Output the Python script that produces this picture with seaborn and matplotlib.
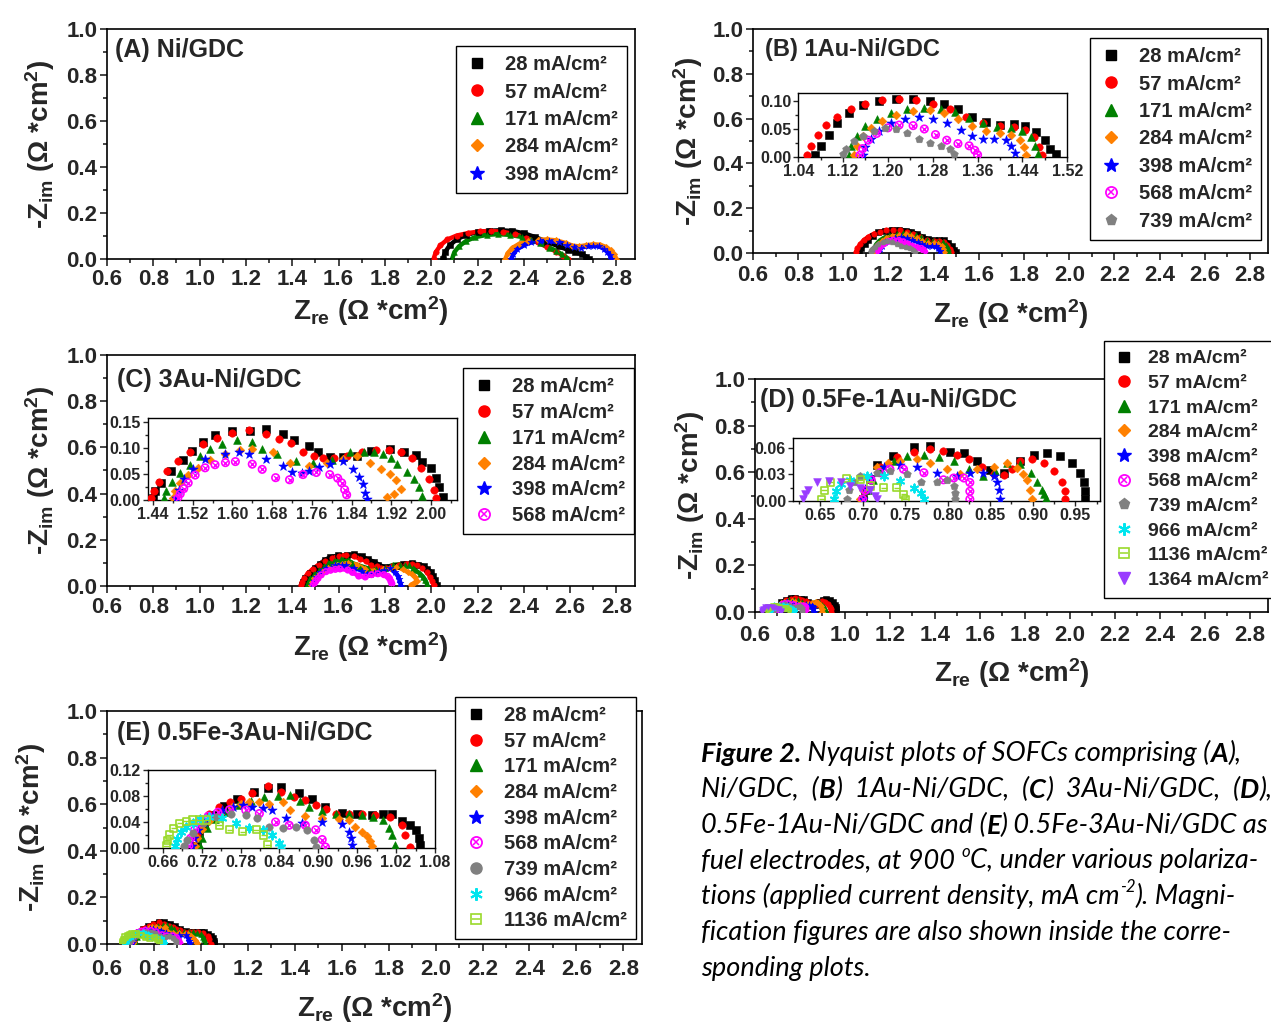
import matplotlib
matplotlib.use("Agg")
import matplotlib.pyplot as plt
import seaborn as sns
import pandas as pd
from matplotlib.lines import Line2D
from matplotlib.ticker import MultipleLocator, FormatStrFormatter

# ---------------- data ----------------
A_cur = [28, 57, 171, 284, 398]
A_re = [
    [2.05, 2.06, 2.08, 2.11, 2.15, 2.20, 2.25, 2.30, 2.35, 2.40, 2.45, 2.50, 2.55, 2.59, 2.62, 2.65, 2.67, 2.68],
    [2.01, 2.02, 2.04, 2.07, 2.11, 2.16, 2.21, 2.26, 2.31, 2.36, 2.41, 2.46, 2.50, 2.54, 2.57, 2.59],
    [2.09, 2.10, 2.12, 2.15, 2.19, 2.24, 2.29, 2.34, 2.39, 2.43, 2.47, 2.51, 2.54, 2.565, 2.58, 2.59],
    [2.32, 2.33, 2.35, 2.38, 2.42, 2.46, 2.50, 2.54, 2.58, 2.61, 2.64, 2.67, 2.70, 2.73, 2.755, 2.775, 2.79, 2.80],
    [2.345, 2.355, 2.37, 2.40, 2.43, 2.47, 2.51, 2.55, 2.585, 2.615, 2.645, 2.675, 2.70, 2.725, 2.745, 2.76, 2.772, 2.778],
]
A_im = [
    [0.0, 0.03, 0.06, 0.085, 0.105, 0.117, 0.123, 0.125, 0.122, 0.112, 0.095, 0.075, 0.055, 0.04, 0.03, 0.02, 0.01, 0.0],
    [0.0, 0.03, 0.06, 0.085, 0.102, 0.113, 0.12, 0.122, 0.118, 0.108, 0.092, 0.072, 0.052, 0.032, 0.015, 0.0],
    [0.0, 0.03, 0.055, 0.078, 0.095, 0.105, 0.108, 0.105, 0.096, 0.083, 0.068, 0.05, 0.035, 0.02, 0.01, 0.0],
    [0.0, 0.025, 0.048, 0.066, 0.078, 0.084, 0.085, 0.081, 0.07, 0.058, 0.055, 0.06, 0.064, 0.062, 0.052, 0.038, 0.02, 0.0],
    [0.0, 0.022, 0.042, 0.06, 0.072, 0.078, 0.078, 0.073, 0.063, 0.053, 0.05, 0.055, 0.058, 0.055, 0.045, 0.032, 0.016, 0.0],
]

B_cur = [28, 57, 171, 284, 398, 568, 739]
B_re = [
    [1.070, 1.080, 1.095, 1.110, 1.130, 1.155, 1.185, 1.215, 1.245, 1.275, 1.300, 1.325, 1.350, 1.375, 1.400, 1.425, 1.445, 1.465, 1.480, 1.490, 1.500],
    [1.055, 1.062, 1.075, 1.090, 1.110, 1.135, 1.160, 1.190, 1.220, 1.250, 1.280, 1.310, 1.340, 1.370, 1.400, 1.425, 1.445, 1.460, 1.470, 1.475],
    [1.130, 1.135, 1.145, 1.160, 1.180, 1.205, 1.235, 1.265, 1.295, 1.320, 1.345, 1.370, 1.395, 1.420, 1.440, 1.455, 1.463, 1.467],
    [1.140, 1.145, 1.155, 1.170, 1.190, 1.215, 1.245, 1.275, 1.300, 1.325, 1.350, 1.375, 1.400, 1.420, 1.435, 1.443, 1.447],
    [1.155, 1.160, 1.170, 1.185, 1.205, 1.230, 1.255, 1.280, 1.305, 1.330, 1.350, 1.370, 1.390, 1.410, 1.420, 1.427],
    [1.150, 1.155, 1.165, 1.180, 1.200, 1.220, 1.245, 1.265, 1.285, 1.305, 1.325, 1.345, 1.355, 1.360],
    [1.120, 1.125, 1.140, 1.155, 1.175, 1.195, 1.215, 1.235, 1.255, 1.275, 1.295, 1.310, 1.318],
]
B_im = [
    [0.003, 0.020, 0.040, 0.060, 0.078, 0.092, 0.100, 0.104, 0.104, 0.100, 0.095, 0.085, 0.072, 0.062, 0.057, 0.058, 0.056, 0.045, 0.030, 0.015, 0.005],
    [0.003, 0.020, 0.040, 0.057, 0.072, 0.086, 0.095, 0.101, 0.104, 0.101, 0.094, 0.085, 0.072, 0.060, 0.055, 0.054, 0.048, 0.035, 0.018, 0.004],
    [0.003, 0.020, 0.038, 0.055, 0.068, 0.078, 0.085, 0.088, 0.086, 0.080, 0.070, 0.060, 0.053, 0.051, 0.047, 0.035, 0.020, 0.005],
    [0.003, 0.020, 0.038, 0.052, 0.065, 0.075, 0.082, 0.083, 0.078, 0.068, 0.055, 0.046, 0.043, 0.040, 0.030, 0.018, 0.004],
    [0.003, 0.018, 0.033, 0.047, 0.060, 0.068, 0.071, 0.068, 0.060, 0.048, 0.038, 0.033, 0.032, 0.030, 0.020, 0.008],
    [0.003, 0.015, 0.030, 0.042, 0.052, 0.057, 0.056, 0.050, 0.040, 0.030, 0.024, 0.020, 0.012, 0.004],
    [0.005, 0.015, 0.028, 0.038, 0.047, 0.052, 0.050, 0.042, 0.033, 0.025, 0.020, 0.015, 0.006],
]

C_cur = [28, 57, 171, 284, 398, 568]
C_re = [
    [1.440, 1.445, 1.457, 1.477, 1.500, 1.518, 1.540, 1.565, 1.599, 1.635, 1.667, 1.701, 1.725, 1.755, 1.772, 1.796, 1.823, 1.850, 1.880, 1.918, 1.945, 1.969, 1.982, 1.999, 2.009, 2.016, 2.023],
    [1.437, 1.442, 1.452, 1.468, 1.490, 1.515, 1.540, 1.570, 1.600, 1.633, 1.667, 1.694, 1.718, 1.742, 1.765, 1.782, 1.805, 1.830, 1.860, 1.890, 1.915, 1.940, 1.962, 1.980, 1.995, 2.005, 2.010],
    [1.462, 1.467, 1.478, 1.495, 1.515, 1.535, 1.555, 1.580, 1.609, 1.640, 1.660, 1.690, 1.728, 1.762, 1.800, 1.837, 1.864, 1.885, 1.904, 1.920, 1.931, 1.952, 1.965, 1.975, 1.982],
    [1.480, 1.485, 1.495, 1.510, 1.530, 1.555, 1.585, 1.615, 1.640, 1.681, 1.715, 1.755, 1.790, 1.823, 1.850, 1.877, 1.900, 1.918, 1.930, 1.940, 1.925, 1.912],
    [1.487, 1.492, 1.502, 1.520, 1.545, 1.586, 1.613, 1.633, 1.667, 1.701, 1.721, 1.740, 1.755, 1.775, 1.796, 1.823, 1.843, 1.855, 1.862, 1.867, 1.870],
    [1.490, 1.495, 1.502, 1.511, 1.525, 1.545, 1.565, 1.586, 1.606, 1.640, 1.660, 1.687, 1.715, 1.742, 1.769, 1.796, 1.812, 1.820, 1.826, 1.830],
]
C_im = [
    [0.003, 0.018, 0.033, 0.056, 0.078, 0.095, 0.112, 0.125, 0.132, 0.133, 0.137, 0.128, 0.115, 0.104, 0.093, 0.082, 0.082, 0.085, 0.095, 0.099, 0.093, 0.086, 0.074, 0.062, 0.043, 0.026, 0.005],
    [0.003, 0.018, 0.035, 0.055, 0.075, 0.093, 0.108, 0.120, 0.130, 0.135, 0.128, 0.118, 0.109, 0.092, 0.085, 0.080, 0.080, 0.085, 0.093, 0.097, 0.097, 0.092, 0.080, 0.062, 0.040, 0.020, 0.004],
    [0.003, 0.018, 0.035, 0.052, 0.068, 0.085, 0.099, 0.108, 0.115, 0.112, 0.099, 0.088, 0.076, 0.072, 0.078, 0.092, 0.093, 0.092, 0.089, 0.080, 0.069, 0.053, 0.040, 0.025, 0.008],
    [0.003, 0.018, 0.033, 0.048, 0.062, 0.077, 0.089, 0.097, 0.099, 0.092, 0.072, 0.066, 0.072, 0.079, 0.084, 0.072, 0.060, 0.050, 0.038, 0.022, 0.012, 0.005],
    [0.003, 0.020, 0.040, 0.060, 0.079, 0.089, 0.092, 0.089, 0.079, 0.066, 0.053, 0.052, 0.056, 0.063, 0.069, 0.076, 0.059, 0.045, 0.030, 0.013, 0.001],
    [0.003, 0.012, 0.022, 0.033, 0.048, 0.062, 0.068, 0.072, 0.074, 0.069, 0.059, 0.043, 0.039, 0.049, 0.053, 0.049, 0.042, 0.033, 0.020, 0.010],
]

D_cur = [28, 57, 171, 284, 398, 568, 739, 966, 1136, 1364]
D_re = [
    [0.700, 0.703, 0.708, 0.717, 0.736, 0.760, 0.779, 0.803, 0.819, 0.835, 0.850, 0.866, 0.885, 0.901, 0.917, 0.932, 0.946, 0.956, 0.960, 0.962, 0.962],
    [0.700, 0.703, 0.709, 0.720, 0.740, 0.760, 0.779, 0.795, 0.811, 0.825, 0.840, 0.855, 0.866, 0.876, 0.885, 0.899, 0.913, 0.925, 0.934, 0.938, 0.938],
    [0.703, 0.706, 0.712, 0.722, 0.737, 0.752, 0.772, 0.790, 0.807, 0.825, 0.842, 0.856, 0.870, 0.885, 0.898, 0.905, 0.911, 0.913, 0.915],
    [0.697, 0.700, 0.706, 0.717, 0.730, 0.744, 0.764, 0.779, 0.799, 0.815, 0.834, 0.854, 0.870, 0.881, 0.889, 0.893, 0.897, 0.899],
    [0.700, 0.703, 0.710, 0.725, 0.744, 0.764, 0.787, 0.811, 0.826, 0.842, 0.854, 0.858, 0.860, 0.862],
    [0.700, 0.703, 0.710, 0.720, 0.732, 0.748, 0.772, 0.795, 0.807, 0.819, 0.826, 0.826, 0.826],
    [0.681, 0.684, 0.690, 0.697, 0.717, 0.732, 0.752, 0.768, 0.787, 0.799, 0.807, 0.809, 0.809],
    [0.666, 0.669, 0.675, 0.685, 0.705, 0.725, 0.744, 0.760, 0.768, 0.772],
    [0.652, 0.655, 0.662, 0.681, 0.697, 0.709, 0.725, 0.740, 0.748, 0.750],
    [0.630, 0.632, 0.636, 0.646, 0.660, 0.674, 0.685, 0.697, 0.709, 0.715, 0.717],
]
D_im = [
    [0.002, 0.012, 0.025, 0.041, 0.051, 0.061, 0.062, 0.056, 0.054, 0.045, 0.035, 0.032, 0.045, 0.052, 0.054, 0.051, 0.043, 0.032, 0.021, 0.011, 0.002],
    [0.002, 0.012, 0.025, 0.038, 0.050, 0.056, 0.059, 0.057, 0.052, 0.047, 0.038, 0.031, 0.029, 0.036, 0.045, 0.047, 0.043, 0.034, 0.022, 0.011, 0.002],
    [0.002, 0.012, 0.024, 0.036, 0.045, 0.051, 0.052, 0.050, 0.045, 0.036, 0.028, 0.034, 0.043, 0.042, 0.032, 0.022, 0.013, 0.008, 0.003],
    [0.002, 0.013, 0.026, 0.039, 0.043, 0.045, 0.047, 0.043, 0.036, 0.030, 0.036, 0.039, 0.043, 0.0375, 0.030, 0.024, 0.013, 0.002],
    [0.002, 0.014, 0.027, 0.039, 0.041, 0.039, 0.032, 0.028, 0.032, 0.032, 0.028, 0.022, 0.012, 0.002],
    [0.002, 0.012, 0.024, 0.032, 0.036, 0.036, 0.032, 0.024, 0.026, 0.026, 0.021, 0.011, 0.002],
    [0.002, 0.012, 0.022, 0.028, 0.032, 0.034, 0.030, 0.021, 0.021, 0.024, 0.017, 0.009, 0.002],
    [0.002, 0.011, 0.019, 0.024, 0.028, 0.028, 0.0225, 0.015, 0.009, 0.002],
    [0.002, 0.012, 0.021, 0.025, 0.024, 0.017, 0.015, 0.015, 0.0075, 0.002],
    [0.002, 0.008, 0.013, 0.021, 0.0225, 0.021, 0.017, 0.015, 0.013, 0.006, 0.002],
]

E_cur = [28, 57, 171, 284, 398, 568, 739, 966, 1136]
E_re = [
    [0.712, 0.716, 0.724, 0.738, 0.755, 0.775, 0.801, 0.822, 0.842, 0.870, 0.891, 0.911, 0.937, 0.960, 0.983, 1.000, 1.014, 1.029, 1.042, 1.050, 1.055, 1.057],
    [0.708, 0.712, 0.720, 0.732, 0.747, 0.763, 0.780, 0.798, 0.822, 0.842, 0.863, 0.880, 0.896, 0.912, 0.927, 0.948, 0.968, 0.988, 1.011, 1.029, 1.034, 1.042],
    [0.717, 0.720, 0.728, 0.740, 0.757, 0.776, 0.796, 0.816, 0.837, 0.857, 0.872, 0.886, 0.906, 0.927, 0.948, 0.968, 0.985, 1.000, 1.009, 1.014, 1.019],
    [0.710, 0.713, 0.720, 0.732, 0.748, 0.766, 0.780, 0.793, 0.809, 0.824, 0.845, 0.857, 0.880, 0.906, 0.932, 0.947, 0.957, 0.967, 0.975, 0.980, 0.983],
    [0.705, 0.708, 0.714, 0.724, 0.737, 0.752, 0.768, 0.783, 0.798, 0.814, 0.829, 0.850, 0.875, 0.906, 0.937, 0.947, 0.950, 0.952],
    [0.700, 0.703, 0.709, 0.718, 0.730, 0.745, 0.763, 0.788, 0.809, 0.834, 0.855, 0.880, 0.896, 0.906, 0.911],
    [0.693, 0.697, 0.706, 0.722, 0.742, 0.765, 0.788, 0.806, 0.824, 0.845, 0.865, 0.883, 0.893, 0.896],
    [0.678, 0.682, 0.688, 0.696, 0.706, 0.718, 0.732, 0.752, 0.773, 0.793, 0.814, 0.829, 0.839, 0.842],
    [0.665, 0.667, 0.670, 0.677, 0.686, 0.696, 0.706, 0.716, 0.727, 0.747, 0.763, 0.783, 0.804, 0.816, 0.822],
]
E_im = [
    [0.003, 0.018, 0.034, 0.050, 0.064, 0.076, 0.086, 0.093, 0.094, 0.085, 0.076, 0.063, 0.054, 0.052, 0.051, 0.052, 0.053, 0.041, 0.035, 0.028, 0.015, 0.004],
    [0.003, 0.020, 0.037, 0.052, 0.063, 0.070, 0.076, 0.084, 0.096, 0.086, 0.079, 0.074, 0.066, 0.060, 0.053, 0.052, 0.053, 0.051, 0.048, 0.035, 0.020, 0.002],
    [0.003, 0.015, 0.030, 0.044, 0.056, 0.066, 0.073, 0.078, 0.080, 0.081, 0.072, 0.063, 0.057, 0.053, 0.052, 0.051, 0.048, 0.043, 0.030, 0.020, 0.005],
    [0.003, 0.015, 0.029, 0.042, 0.053, 0.063, 0.068, 0.071, 0.071, 0.068, 0.071, 0.058, 0.049, 0.046, 0.044, 0.043, 0.033, 0.025, 0.018, 0.010, 0.0035],
    [0.003, 0.015, 0.028, 0.040, 0.050, 0.058, 0.063, 0.066, 0.063, 0.061, 0.058, 0.046, 0.038, 0.040, 0.037, 0.025, 0.015, 0.005],
    [0.003, 0.015, 0.028, 0.039, 0.049, 0.055, 0.059, 0.058, 0.053, 0.040, 0.035, 0.035, 0.028, 0.013, 0.0015],
    [0.003, 0.012, 0.023, 0.038, 0.048, 0.053, 0.051, 0.046, 0.033, 0.030, 0.033, 0.028, 0.013, 0.0015],
    [0.003, 0.014, 0.025, 0.032, 0.038, 0.044, 0.048, 0.046, 0.038, 0.030, 0.028, 0.020, 0.008, 0.0015],
    [0.003, 0.012, 0.020, 0.030, 0.038, 0.041, 0.043, 0.043, 0.043, 0.035, 0.028, 0.025, 0.028, 0.020, 0.005],
]

COLOR = {28: "#000000", 57: "#ff0000", 171: "#008000", 284: "#ff8000", 398: "#0000ff",
         568: "#ff00ff", 739: "#808080", 966: "#00e5ee", 1136: "#99d92a", 1364: "#9a3cff"}
MARK = {28: "s", 57: "o", 171: "^", 284: "D", 398: "*", 568: "ox",
        739: "p", 966: "ast", 1136: "sq", 1364: "v"}
MSCALE = {"s": 1.0, "o": 1.1, "^": 1.2, "D": 0.75, "*": 1.9, "p": 1.3, "v": 1.2}

# ---------------- style ----------------
sns.set_theme(style="ticks")
plt.rcParams["font.family"] = ["Liberation Sans", "DejaVu Sans"]
plt.rcParams["font.weight"] = "bold"
plt.rcParams["mathtext.default"] = "regular"
plt.rcParams["axes.linewidth"] = 1.2

XLABEL = "Z$_{re}$ (\u03a9 *cm$^{2}$)"
YLABEL = "-Z$_{im}$ (\u03a9 *cm$^{2}$)"

fig = plt.figure(figsize=(12.71, 10.25), dpi=100)


def marks(ax, re, im, cur, s, m739="p"):
    df = pd.DataFrame({"re": re, "im": im})
    c = COLOR[cur]
    m = m739 if cur == 739 else MARK[cur]
    kw = dict(data=df, x="re", y="im", ax=ax, legend=False, zorder=3)
    if m == "ox":
        sns.scatterplot(marker="o", s=s * 1.1, facecolor="none", edgecolor=c, linewidth=1.2, **kw)
        sns.scatterplot(marker="x", s=s * 0.45, color=c, edgecolor=c, linewidth=1.0, **kw)
    elif m == "sq":
        sns.scatterplot(marker="s", s=s, facecolor="none", edgecolor=c, linewidth=1.2, **kw)
        sns.scatterplot(marker="_", s=s * 0.7, color=c, edgecolor=c, linewidth=1.0, **kw)
    elif m == "ast":
        sns.scatterplot(marker=(6, 2, 0), s=s * 1.3, color=c, edgecolor=c, linewidth=1.4, **kw)
    else:
        sns.scatterplot(marker=m, s=s * MSCALE[m], color=c, edgecolor=c, linewidth=0.4, **kw)


def handle(cur, m739="p"):
    c = COLOR[cur]
    m = m739 if cur == 739 else MARK[cur]
    if m == "ox":
        return (Line2D([], [], ls="none", marker="o", ms=8, mfc="none", mec=c, mew=1.3),
                Line2D([], [], ls="none", marker="x", ms=5, color=c, mew=1.1))
    if m == "sq":
        return (Line2D([], [], ls="none", marker="s", ms=7, mfc="none", mec=c, mew=1.2),
                Line2D([], [], ls="none", marker="_", ms=6, color=c, mew=1.1))
    if m == "ast":
        return Line2D([], [], ls="none", marker=(6, 2, 0), ms=9, color=c, mew=1.5)
    ms = {"s": 7, "o": 8, "^": 8, "D": 6.5, "*": 10, "p": 8, "v": 8}[m]
    return Line2D([], [], ls="none", marker=m, ms=ms, color=c, mec=c)


def main_axes(rect, cur, re, im, title, tpos, legpos, lspace, m739="p",
              tfs=18, xpad=2, xlpad=3, ylpad=4, lfs=14.5, ltp=0.8):
    ax = fig.add_axes(rect)
    for i, c in enumerate(cur):
        sns.lineplot(x=re[i], y=im[i], sort=False, estimator=None, color=COLOR[c],
                     linewidth=3.2, ax=ax, legend=False)
        marks(ax, re[i], im[i], c, 14, m739)
    ax.set_xlim(0.6, 2.88)
    ax.set_ylim(0, 1.0)
    ax.xaxis.set_major_locator(MultipleLocator(0.2))
    ax.xaxis.set_minor_locator(MultipleLocator(0.1))
    ax.yaxis.set_major_locator(MultipleLocator(0.2))
    ax.yaxis.set_minor_locator(MultipleLocator(0.1))
    ax.xaxis.set_major_formatter(FormatStrFormatter("%.1f"))
    ax.yaxis.set_major_formatter(FormatStrFormatter("%.1f"))
    ax.tick_params(which="major", direction="out", length=5, width=1.2, labelsize=16, pad=2)
    ax.tick_params(axis="x", which="major", pad=xpad)
    ax.tick_params(which="minor", direction="out", length=3, width=1.2)
    for sp in ax.spines.values():
        sp.set_linewidth(1.2)
        sp.set_color("black")
    ax.set_xlabel(XLABEL, fontsize=20, fontweight="bold", labelpad=xlpad)
    ax.set_ylabel(YLABEL, fontsize=20, fontweight="bold", labelpad=ylpad)
    ax.text(tpos[0], tpos[1], title, transform=ax.transAxes, fontsize=tfs,
            fontweight="bold", va="center", ha="left")
    leg = ax.legend([handle(c, m739) for c in cur], [f"{c} mA/cm\u00b2" for c in cur],
                    loc="upper left", bbox_to_anchor=legpos, bbox_transform=fig.transFigure,
                    fontsize=lfs, frameon=True, fancybox=False, edgecolor="black",
                    framealpha=1, borderaxespad=0, borderpad=0.45, labelspacing=lspace,
                    handlelength=1.2, handletextpad=ltp)
    leg.get_frame().set_linewidth(1.0)
    return ax


def inset_axes(rect, cur, re, im, xlim, ylim, xmaj, xmin, ymaj, ymin, m739="p"):
    ax = fig.add_axes(rect)
    for i, c in enumerate(cur):
        marks(ax, re[i], im[i], c, 26, m739)
    ax.set_xlim(*xlim)
    ax.set_ylim(*ylim)
    ax.xaxis.set_major_locator(MultipleLocator(xmaj))
    ax.xaxis.set_minor_locator(MultipleLocator(xmin))
    ax.yaxis.set_major_locator(MultipleLocator(ymaj))
    ax.yaxis.set_minor_locator(MultipleLocator(ymin))
    ax.xaxis.set_major_formatter(FormatStrFormatter("%.2f"))
    ax.yaxis.set_major_formatter(FormatStrFormatter("%.2f"))
    ax.tick_params(which="major", direction="out", length=3.5, width=1, labelsize=11.5, pad=1.5)
    ax.tick_params(which="minor", direction="out", length=2, width=1)
    for sp in ax.spines.values():
        sp.set_linewidth(1.0)
        sp.set_color("black")
    ax.set_xlabel("")
    ax.set_ylabel("")
    return ax


main_axes([0.0842, 0.7473, 0.4154, 0.2244], A_cur, A_re, A_im, "(A) Ni/GDC",
          (0.015, 0.91), (0.3588, 0.9551), 0.42, ylpad=7)
main_axes([0.5925, 0.7532, 0.4052, 0.2185], B_cur, B_re, B_im, "(B) 1Au-Ni/GDC",
          (0.023, 0.91), (0.8576, 0.9629), 0.42, tfs=17, xpad=4, xlpad=8, ylpad=5)
inset_axes([0.628, 0.8468, 0.2117, 0.0624], B_cur, B_re, B_im, (1.04, 1.52), (0, 0.114),
           0.08, 0.04, 0.05, 0.025)
main_axes([0.0842, 0.4283, 0.4154, 0.2254], C_cur, C_re, C_im, "(C) 3Au-Ni/GDC",
          (0.019, 0.892), (0.3643, 0.641), 0.34, xpad=3, xlpad=9, ylpad=7)
inset_axes([0.1164, 0.5122, 0.2431, 0.08], C_cur, C_re, C_im, (1.43, 2.052), (0, 0.158),
           0.08, 0.04, 0.05, 0.025)
main_axes([0.594, 0.4029, 0.4036, 0.2273], D_cur, D_re, D_im, "(D) 0.5Fe-1Au-Ni/GDC",
          (0.01, 0.91), (0.8686, 0.6673), 0.36, xpad=4, xlpad=8, ylpad=5, lfs=14, ltp=0.6)
inset_axes([0.6239, 0.5112, 0.2415, 0.0615], D_cur, D_re, D_im, (0.618, 0.979), (0, 0.0713),
           0.05, 0.025, 0.03, 0.015)
main_axes([0.0842, 0.079, 0.421, 0.2273], E_cur, E_re, E_im, "(E) 0.5Fe-3Au-Ni/GDC",
          (0.019, 0.906), (0.358, 0.32), 0.33, m739="o", xpad=6, xlpad=8, ylpad=13)
inset_axes([0.1164, 0.1727, 0.2258, 0.0761], E_cur, E_re, E_im, (0.637, 1.08), (0, 0.12),
           0.06, 0.03, 0.04, 0.02, m739="o")

# ---------------- caption ----------------
cap = fig.add_axes([0, 0, 1, 1], facecolor="none")
cap.axis("off")
CAP_FS = 19.5
CAP_FONT = ["Lato", "DejaVu Sans"]
caption = [
    [("Figure 2.", "b"), (" Nyquist plots of SOFCs comprising (", "i"), ("A", "b"), ("),", "i")],
    [("Ni/GDC,  (", "i"), ("B", "b"), (")  1Au-Ni/GDC,  (", "i"), ("C", "b"), (")  3Au-Ni/GDC,  (", "i"), ("D", "b"), ("),", "i")],
    [("0.5Fe-1Au-Ni/GDC and (", "i"), ("E", "b"), (") 0.5Fe-3Au-Ni/GDC as", "i")],
    [("fuel electrodes, at 900 ", "i"), ("o", "sup"), ("C, under various polariza-", "i")],
    [("tions (applied current density, mA cm", "i"), ("-2", "sup"), ("). Magni-", "i")],
    [("fication figures are also shown inside the corre-", "i")],
    [("sponding plots.", "i")],
]
y0 = 1 - 766 / 1025
for k, line in enumerate(caption):
    y = y0 - k * 35.8 / 1025
    base = None
    prev = None
    for txt, st in line:
        kw = dict(fontsize=CAP_FS if st != "sup" else CAP_FS * 0.62, style="italic",
                  family=CAP_FONT, fontweight="bold" if st == "b" else "normal",
                  va="bottom", ha="left", color="black")
        if prev is None:
            prev = cap.text(701 / 1271, y, txt, transform=cap.transAxes, **kw)
            base = prev
        else:
            off = (0, 10) if st == "sup" else (0, 0)
            prev = cap.annotate(txt, xy=(1, 0), xycoords=(prev, base), xytext=off,
                                textcoords="offset points", **kw)

fig.savefig("out.png", dpi=100)
